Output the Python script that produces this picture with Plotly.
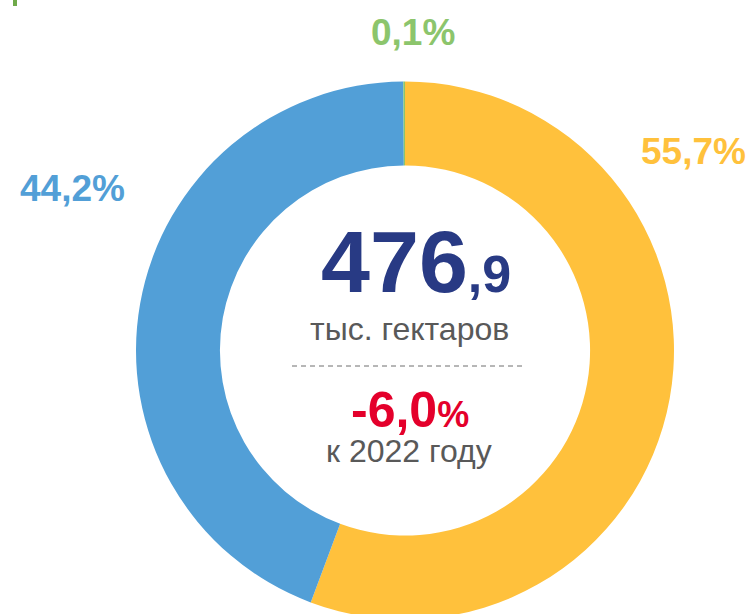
import plotly.graph_objects as go

# data
categories = ["Категория A", "Категория B", "Категория C"]
shares = [55.7, 44.2, 0.1]
share_labels = ["55,7%", "44,2%", "0,1%"]
colors = ["#FFC13C", "#529FD7", "#8CC56C"]
total_main = "476"
total_dec = ",9"
total_unit = "тыс. гектаров"
change_main = "-6,0"
change_unit = "%"
change_note = "к 2022 году"

W, H = 751, 620  # figure slightly taller than the 614 window so the ring is cut at the bottom
FONT = "Liberation Sans, Arial, sans-serif"


def py2paper(py):
    return 1 - py / H


fig = go.Figure()
fig.add_trace(go.Pie(
    labels=categories,
    values=shares,
    marker=dict(colors=colors, line=dict(width=0)),
    hole=0.688,
    sort=False,
    direction="clockwise",
    rotation=0,
    textinfo="none",
    hoverinfo="label+percent",
    showlegend=False,
    domain=dict(x=[136/W, 674/W], y=[0, py2paper(81)]),
))

# percent labels
label_pos = [(693, 152), (72, 189), (413, 32)]
for txt, col, (px, py) in zip(share_labels, colors, label_pos):
    fig.add_annotation(
        x=px/W, y=py2paper(py), xref="paper", yref="paper",
        text=f"<b>{txt}</b>", showarrow=False,
        font=dict(family=FONT, size=37, color=col),
        xanchor="center", yanchor="middle",
    )

# center texts
fig.add_annotation(
    x=416/W, y=py2paper(295), xref="paper", yref="paper",
    text=f"<b>{total_main}<span style='font-size:52px'>{total_dec}</span></b>",
    showarrow=False, font=dict(family=FONT, size=88, color="#283A84"),
    xanchor="center", yanchor="bottom", yshift=-18,
)
fig.add_annotation(
    x=409/W, y=py2paper(329), xref="paper", yref="paper",
    text=total_unit, showarrow=False,
    font=dict(family=FONT, size=32, color="#595959"),
    xanchor="center", yanchor="middle",
)
fig.add_annotation(
    x=410/W, y=py2paper(410), xref="paper", yref="paper",
    text=f"<b>{change_main}<span style='font-size:36px'>{change_unit}</span></b>",
    showarrow=False, font=dict(family=FONT, size=50, color="#E4002B"),
    xanchor="center", yanchor="middle",
)
fig.add_annotation(
    x=409/W, y=py2paper(451), xref="paper", yref="paper",
    text=change_note, showarrow=False,
    font=dict(family=FONT, size=32, color="#595959"),
    xanchor="center", yanchor="middle",
)

# dashed separator
fig.add_shape(type="line", xref="paper", yref="paper",
              x0=292/W, x1=525/W, y0=py2paper(366), y1=py2paper(366),
              line=dict(color="#6F6F6F", width=1, dash="5px,4px"))
# small green mark at top-left
fig.add_shape(type="rect", xref="paper", yref="paper",
              x0=13/W, x1=17/W, y0=py2paper(6), y1=1,
              line=dict(width=0), fillcolor="#6FAA4A")

fig.update_layout(
    width=W, height=H,
    margin=dict(l=0, r=0, t=0, b=0),
    paper_bgcolor="white", plot_bgcolor="white",
)
fig.write_html("out.html",
               config={"displayModeBar": False},
               post_script="document.body.style.margin='0';document.body.style.overflow='hidden';document.documentElement.style.overflow='hidden';")
